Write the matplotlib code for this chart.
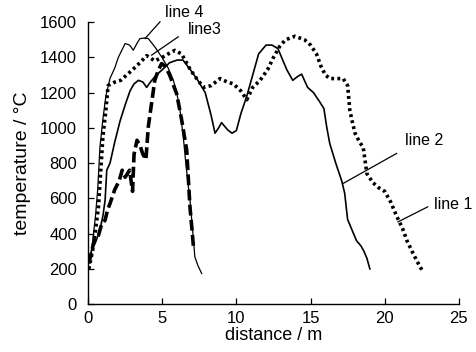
import matplotlib
matplotlib.use("Agg")
import matplotlib.pyplot as plt

plt.rcParams['font.family'] = ['Liberation Sans', 'DejaVu Sans']

# line 1 - dotted, longest run
d1 = [0.05, 0.3, 0.5, 0.7, 0.85, 1.0, 1.2, 1.35, 1.8, 2.2, 2.6, 3.0, 3.5, 3.95, 4.5, 5.0, 5.4,
      5.85, 6.3, 6.9, 7.4, 7.8, 8.3, 8.9, 9.4, 9.8, 10.3, 10.7, 11.1, 11.6, 12.1, 12.5, 12.9,
      13.3, 13.95, 14.6, 15.0, 15.4, 15.7, 16.0, 16.3, 16.8, 17.2, 17.5, 17.65, 17.8, 18.0,
      18.3, 18.55, 18.7, 18.8, 19.2, 19.6, 20.0, 20.4, 20.8, 21.2, 21.5, 21.9, 22.2, 22.5]
t1 = [200, 300, 420, 550, 750, 950, 1100, 1240, 1260, 1270, 1300, 1330, 1370, 1410, 1380, 1400,
      1420, 1440, 1420, 1330, 1270, 1230, 1240, 1280, 1260, 1250, 1210, 1160, 1230, 1270, 1330,
      1400, 1460, 1500, 1520, 1500, 1470, 1420, 1350, 1300, 1280, 1280, 1280, 1240, 1100, 1040,
      970, 920, 890, 800, 740, 690, 660, 640, 580, 500, 430, 360, 290, 240, 195]

# line 2 - solid
d2 = [0.1, 0.3, 0.5, 0.8, 1.0, 1.15, 1.26, 1.48, 1.8, 2.16, 2.5, 2.83, 3.1, 3.4, 3.7, 3.95, 4.2,
      4.6, 5.0, 5.5, 6.0, 6.4, 6.9, 7.4, 7.9, 8.3, 8.56, 8.8, 9.0, 9.4, 9.7, 10.0, 10.3, 10.7,
      11.1, 11.5, 12.0, 12.4, 12.8, 13.1, 13.4, 13.8, 14.1, 14.4, 14.8, 15.2, 15.6, 15.9, 16.1,
      16.3, 16.7, 17.1, 17.3, 17.5, 17.8, 18.1, 18.4, 18.6, 18.8, 19.0]
t2 = [250, 330, 350, 420, 500, 590, 760, 800, 920, 1040, 1130, 1210, 1250, 1270, 1260, 1230, 1260,
      1300, 1330, 1370, 1385, 1385, 1330, 1270, 1200, 1070, 970, 1000, 1030, 990, 970, 985, 1080,
      1180, 1300, 1420, 1470, 1470, 1450, 1390, 1330, 1270, 1290, 1305, 1230, 1200, 1150, 1110,
      1000, 910, 800, 700, 630, 480, 420, 360, 330, 300, 260, 200]

# line 3 - dashed
d3 = [0.05, 0.3, 0.5, 0.7, 0.9, 1.15, 1.3, 1.48, 1.8, 2.1, 2.3, 2.5, 2.8, 3.0, 3.1, 3.3, 3.5,
      3.7, 3.9, 4.06, 4.3, 4.5, 4.75, 4.96, 5.2, 5.5, 5.97, 6.3, 6.65, 6.87, 7.0, 7.1]
t3 = [230, 320, 380, 390, 450, 477, 530, 571, 650, 700, 760, 720, 760, 640, 850, 930, 900,
      850, 820, 1006, 1150, 1271, 1330, 1365, 1350, 1300, 1195, 1050, 874, 552, 430, 330]

# line 4 - thin solid
d4 = [0.15, 0.3, 0.5, 0.65, 0.8, 1.0, 1.2, 1.48, 1.8, 2.04, 2.5, 2.8, 3.05, 3.3, 3.5, 3.8, 4.06,
      4.5, 4.96, 5.4, 5.75, 6.0, 6.2, 6.42, 6.6, 6.87, 7.05, 7.2, 7.4, 7.66]
t4 = [250, 350, 500, 650, 890, 1050, 1180, 1281, 1340, 1400, 1479, 1470, 1441, 1480, 1507, 1510,
      1507, 1460, 1403, 1340, 1271, 1190, 1101, 949, 790, 590, 420, 268, 220, 174]

# labels: text, text anchor, pointer start, pointer end
labels = [
    ("line 4", (5.2, 1655), (4.85, 1602), (3.84, 1507)),
    ("line3", (6.75, 1560), (6.08, 1517), (4.29, 1413)),
    ("line 2", (21.35, 930), (20.8, 855), (17.2, 685)),
    ("line 1", (23.3, 565), (22.9, 552), (20.9, 467)),
]

fig = plt.figure(figsize=(4.76, 3.52), dpi=100)
ax = fig.add_axes([0.185, 0.136, 0.779, 0.801])

ax.plot(d1, t1, color='black', lw=2.6, linestyle=(0, (0.8, 0.9)))
ax.plot(d2, t2, color='black', lw=1.2)
ax.plot(d3, t3, color='black', lw=2.6, linestyle=(0, (3, 1.2)))
ax.plot(d4, t4, color='black', lw=0.9)

for txt, pos, p0, p1 in labels:
    ax.plot([p0[0], p1[0]], [p0[1], p1[1]], color='black', lw=0.9, clip_on=False)
    ax.text(pos[0], pos[1], txt, fontsize=11.5, ha='left', va='center', clip_on=False)

ax.set_xlim(0, 25)
ax.set_ylim(0, 1600)
ax.set_xticks(range(0, 26, 5))
ax.set_yticks(range(0, 1601, 200))
ax.tick_params(direction='in', length=4, width=0.9, labelsize=12)
ax.tick_params(axis='x', pad=5)
ax.tick_params(axis='y', pad=8)
for s in ['left', 'bottom']:
    ax.spines[s].set_linewidth(1.0)
ax.spines['top'].set_visible(False)
ax.spines['right'].set_visible(False)
ax.set_xlabel('distance / m', fontsize=13, labelpad=1)
ax.set_ylabel('temperature / \u00b0C', fontsize=14, labelpad=6)

fig.savefig('out.png', dpi=100)
